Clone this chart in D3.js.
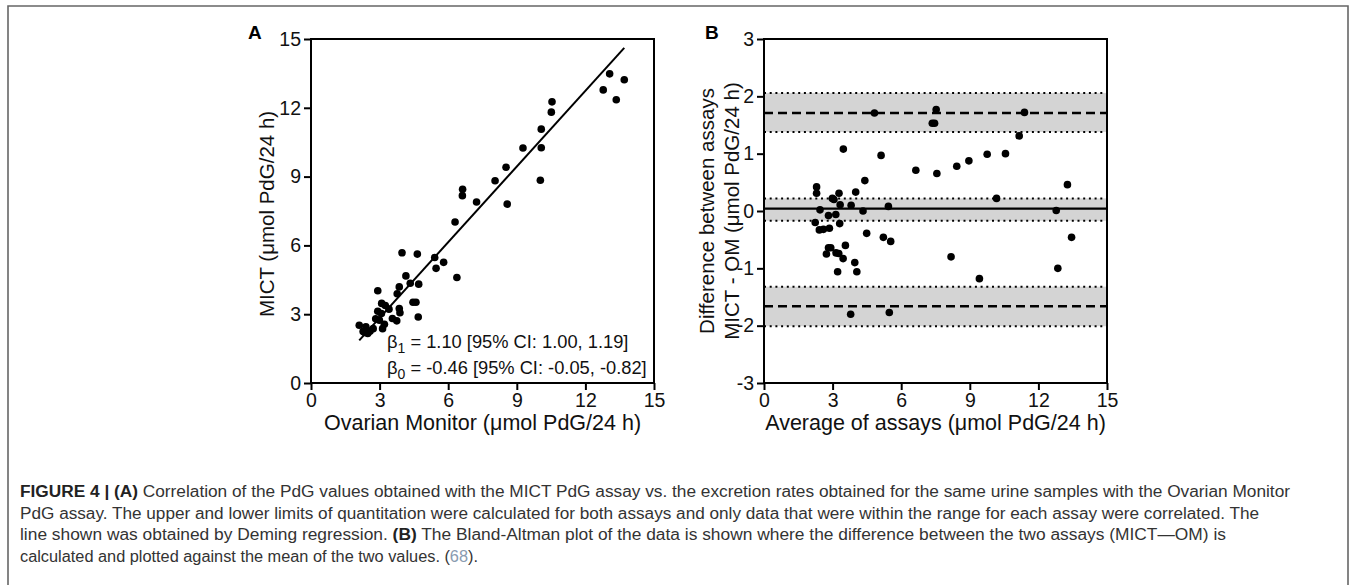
<!DOCTYPE html>
<html><head><meta charset="utf-8">
<script src="https://cdn.jsdelivr.net/npm/d3@7"></script>
<style>body{margin:0;background:#fff}svg{display:block}</style>
</head><body>
<script>
// ---------- DATA ----------
const xTickValues = [0, 3, 6, 9, 12, 15];
const yTickValuesA = [0, 3, 6, 9, 12, 15];
const yTickValuesB = [-3, -2, -1, 0, 1, 2, 3];

// Panel A: Ovarian Monitor (x) vs MICT (y)
const omValues   = [13.06,13.70,12.78,13.35,10.54,10.51,10.07,10.07,9.27,8.53,8.05,10.03,6.63,6.62,7.24,8.58,6.30,3.98,4.65,5.41,5.47,5.80,6.38,4.15,4.34,4.71,3.86,3.77,2.92,4.46,4.59,4.69,3.86,3.89,3.09,3.25,3.41,2.92,3.08,3.56,3.75,2.83,2.99,3.21,3.13,2.11,2.40,2.35,2.58,2.72,2.48,2.28];
const mictValues = [13.48,13.22,12.78,12.35,12.26,11.81,11.07,10.26,10.25,9.41,8.82,8.84,8.45,8.17,7.89,7.80,7.02,5.68,5.62,5.47,5.00,5.26,4.60,4.67,4.35,4.31,4.19,3.89,4.02,3.52,3.52,2.88,3.25,3.06,3.47,3.38,3.22,3.13,3.03,2.81,2.71,2.80,2.74,2.56,2.37,2.52,2.45,2.20,2.26,2.37,2.16,2.25];

// Deming regression
const demingSlope = 1.10;
const demingIntercept = -0.46;
const demingRange = [2.11, 13.70];
const annotationLines = ["= 1.10 [95% CI: 1.00, 1.19]", "= -0.46 [95% CI: -0.05, -0.82]"];

// Panel B: Bland-Altman
const avgValues  = [2.30,2.30,2.45,2.24,2.42,2.60,2.86,2.82,2.99,3.06,3.28,3.33,3.14,3.31,3.47,3.81,4.01,4.33,4.41,4.83,5.12,5.44,4.49,5.22,5.54,2.82,2.92,3.56,2.73,3.15,3.27,3.46,3.97,3.22,4.06,3.79,5.48,6.64,7.56,7.36,7.46,7.53,8.43,8.96,9.76,10.56,10.17,11.16,11.39,12.78,13.27,8.18,9.42,12.85,13.45];
const diffValues = [0.42,0.31,0.02,-0.20,-0.33,-0.32,-0.30,-0.08,0.22,0.20,0.31,0.11,-0.06,-0.22,1.08,0.10,0.33,0.00,0.53,1.71,0.97,0.08,-0.39,-0.46,-0.53,-0.64,-0.64,-0.60,-0.75,-0.73,-0.74,-0.83,-0.90,-1.06,-1.06,-1.80,-1.77,0.71,0.655,1.53,1.53,1.77,0.78,0.875,0.99,1.00,0.22,1.31,1.72,0.01,0.46,-0.80,-1.18,-1.00,-0.46];

const biasLine = 0.04;
const biasCI = [-0.17, 0.22];
const upperLoA = 1.71;
const upperLoACI = [1.38, 2.06];
const lowerLoA = -1.66;
const lowerLoACI = [-2.01, -1.32];

const captionLines = [
  [{t:"FIGURE 4 | (A)", b:true}, {t:" Correlation of the PdG values obtained with the MICT PdG assay vs. the excretion rates obtained for the same urine samples with the Ovarian Monitor"}],
  [{t:"PdG assay. The upper and lower limits of quantitation were calculated for both assays and only data that were within the range for each assay were correlated. The"}],
  [{t:"line shown was obtained by Deming regression. "}, {t:"(B)", b:true}, {t:" The Bland-Altman plot of the data is shown where the difference between the two assays (MICT\u2014OM) is"}],
  [{t:"calculated and plotted against the mean of the two values. ("}, {t:"68", link:true}, {t:")."}]
];
const captionWidths = [1270, 1239, 1206, 458];

// ---------- DRAW ----------
const W = 1357, H = 585;
const FONT = "'Liberation Sans', Arial, Helvetica, sans-serif";
const svg = d3.select("body").append("svg").attr("width", W).attr("height", H)
  .style("font-family", FONT);

// outer frame
svg.append("path").attr("d", `M8,${H+2} L8,6 L1348,6 L1348,${H+2}`)
  .attr("fill", "none").attr("stroke", "#666").attr("stroke-width", 1.6);

function panel(opts) {
  const {x0, x1, y0, y1, xDomain, yDomain} = opts;
  const x = d3.scaleLinear().domain(xDomain).range([x0, x1]);
  const y = d3.scaleLinear().domain(yDomain).range([y1, y0]);
  const g = svg.append("g");
  return {x, y, g};
}

function drawAxes(p, o) {
  const {x, y, g} = p;
  const fmt = d => String(d);
  const xa = g.append("g").attr("transform", `translate(0,${y.range()[0]})`);
  xa.call(d3.axisBottom(x).tickValues(d3.range(0, 16, 1)).tickSize(4).tickFormat(""));
  xa.call(d3.axisBottom(x).tickValues(xTickValues).tickSize(7).tickFormat(fmt));
  const ya = g.append("g").attr("transform", `translate(${x.range()[0]},0)`);
  if (o.yMinor) ya.call(d3.axisLeft(y).tickValues(o.yMinor).tickSize(4).tickFormat(""));
  ya.call(d3.axisLeft(y).tickValues(o.yTicks).tickSize(7).tickFormat(fmt));
  [xa, ya].forEach(a => {
    a.selectAll(".domain").remove();
    a.selectAll("line").attr("stroke", "#000").attr("stroke-width", 2);
    a.selectAll("text").attr("fill", "#111").style("font-size", "19.5px").style("font-family", FONT);
  });
  xa.selectAll("text").attr("dy", "0.72em");
  ya.selectAll("text").attr("x", -10);
  g.append("rect").attr("x", x.range()[0]).attr("y", y.range()[1])
    .attr("width", x.range()[1] - x.range()[0]).attr("height", y.range()[0] - y.range()[1])
    .attr("fill", "none").attr("stroke", "#000").attr("stroke-width", 2);
}

// ---- Panel A ----
const A = panel({x0: 311, x1: 654, y0: 39, y1: 383, xDomain: [0, 15], yDomain: [0, 15]});
A.g.append("line")
  .attr("x1", A.x(demingRange[0])).attr("y1", A.y(demingSlope * demingRange[0] + demingIntercept))
  .attr("x2", A.x(demingRange[1])).attr("y2", A.y(demingSlope * demingRange[1] + demingIntercept))
  .attr("stroke", "#000").attr("stroke-width", 2);
A.g.selectAll("circle").data(omValues.map((v, i) => [v, mictValues[i]])).join("circle")
  .attr("cx", d => A.x(d[0])).attr("cy", d => A.y(d[1])).attr("r", 3.8).attr("fill", "#000");
drawAxes(A, {yTicks: yTickValuesA, yMinor: d3.range(0, 16, 1)});

const ann = A.g.append("g").style("font-size", "18.3px").attr("fill", "#111");
[["1", annotationLines[0], 348], ["0", annotationLines[1], 374]].forEach(([sub, txt, yy]) => {
  const t = ann.append("text").attr("x", 387).attr("y", yy);
  t.append("tspan").text("\u03b2");
  t.append("tspan").text(sub).attr("dy", 5).style("font-size", "14px");
  t.append("tspan").text(" " + txt).attr("dy", -5);
});

svg.append("text").attr("x", 248).attr("y", 39).text("A")
  .style("font-size", "19px").style("font-weight", "bold");
svg.append("text").attr("x", (311 + 654) / 2).attr("y", 430).attr("text-anchor", "middle")
  .style("font-size", "21.5px").attr("fill", "#111").text("Ovarian Monitor (\u03bcmol PdG/24 h)");
svg.append("text").attr("transform", `translate(274,214) rotate(-90)`).attr("text-anchor", "middle")
  .style("font-size", "20.5px").attr("fill", "#111").text("MICT (\u03bcmol PdG/24 h)");

// ---- Panel B ----
const B = panel({x0: 764, x1: 1107, y0: 39, y1: 383, xDomain: [0, 15], yDomain: [-3, 3]});
const bx0 = B.x(0), bx1 = B.x(15);
[biasCI, upperLoACI, lowerLoACI].forEach(ci => {
  B.g.append("rect").attr("x", bx0).attr("width", bx1 - bx0)
    .attr("y", B.y(ci[1])).attr("height", B.y(ci[0]) - B.y(ci[1])).attr("fill", "#d4d4d4");
  ci.forEach(v => B.g.append("line").attr("x1", bx0).attr("x2", bx1).attr("y1", B.y(v)).attr("y2", B.y(v))
    .attr("stroke", "#000").attr("stroke-width", 2).attr("stroke-dasharray", "2,3.7"));
});
[upperLoA, lowerLoA].forEach(v => B.g.append("line").attr("x1", bx0).attr("x2", bx1)
  .attr("y1", B.y(v)).attr("y2", B.y(v)).attr("stroke", "#000").attr("stroke-width", 2.5)
  .attr("stroke-dasharray", "9,5"));
B.g.append("line").attr("x1", bx0).attr("x2", bx1).attr("y1", B.y(biasLine)).attr("y2", B.y(biasLine))
  .attr("stroke", "#000").attr("stroke-width", 2.2);
B.g.selectAll("circle").data(avgValues.map((v, i) => [v, diffValues[i]])).join("circle")
  .attr("cx", d => B.x(d[0])).attr("cy", d => B.y(d[1])).attr("r", 3.8).attr("fill", "#000");
drawAxes(B, {yTicks: yTickValuesB, yMinor: null});

svg.append("text").attr("x", 705).attr("y", 39).text("B")
  .style("font-size", "19px").style("font-weight", "bold");
svg.append("text").attr("x", (764 + 1107) / 2).attr("y", 430).attr("text-anchor", "middle")
  .style("font-size", "21.5px").attr("fill", "#111").text("Average of assays (\u03bcmol PdG/24 h)");
svg.append("text").attr("transform", `translate(714,211) rotate(-90)`).attr("text-anchor", "middle")
  .style("font-size", "20.5px").attr("fill", "#111").text("Difference between assays");
svg.append("text").attr("transform", `translate(739,211) rotate(-90)`).attr("text-anchor", "middle")
  .style("font-size", "20.5px").attr("fill", "#111").text("MICT - OM (\u03bcmol PdG/24 h)");

// ---- Caption ----
const cap = svg.append("g").style("font-size", "16px").attr("fill", "#333");
captionLines.forEach((parts, i) => {
  const t = cap.append("text").attr("x", 20).attr("y", 497 + i * 21.6);
  parts.forEach(p => {
    const s = t.append("tspan").text(p.t);
    if (p.b) s.style("font-weight", "bold").attr("fill", "#222");
    if (p.link) s.attr("fill", "#8a9bb0");
  });
  if (captionWidths[i]) t.attr("textLength", captionWidths[i]).attr("lengthAdjust", "spacingAndGlyphs");
});
</script>
</body></html>
